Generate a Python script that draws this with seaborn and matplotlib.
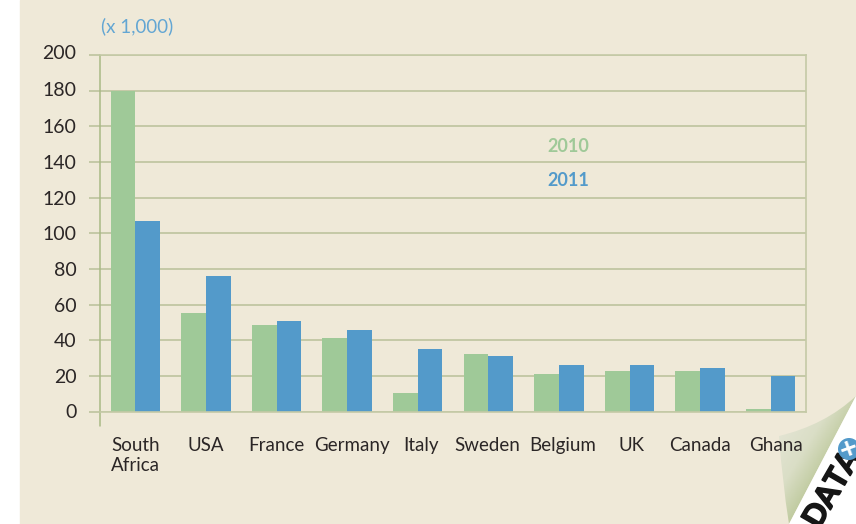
from matplotlib import pyplot as plt
from matplotlib.patches import Circle, PathPatch, Polygon, Rectangle
from matplotlib.path import Path
from matplotlib.transforms import ScaledTranslation
import matplotlib.patheffects as pe
import numpy as np
import pandas as pd
import seaborn as sns

countries = ['South\nAfrica', 'USA', 'France', 'Germany', 'Italy', 'Sweden', 'Belgium', 'UK', 'Canada', 'Ghana']
values_2010 = [180, 55, 48.5, 41, 10.5, 32, 21, 23, 23, 1.5]
values_2011 = [107, 76, 51, 46, 35, 31, 26, 26, 24.5, 20]
y_ticks = [0, 20, 40, 60, 80, 100, 120, 140, 160, 180, 200]

GREEN = '#9fc998'
BLUE = '#539aca'
CREAM = '#efe9d8'
GRID = '#c4c9a6'
AXIS = '#a9b985'
TEXT = '#2b2626'

sns.set_style('white')
plt.rcParams['font.family'] = ['Lato', 'DejaVu Sans']

df = pd.DataFrame({
    'country': countries * 2,
    'year': ['2010'] * len(countries) + ['2011'] * len(countries),
    'value': values_2010 + values_2011,
})

W, H = 856, 524
fig = plt.figure(figsize=(W / 100, H / 100), dpi=100, facecolor='white')
fig.patches.append(Rectangle((20 / W, 0), 1 - 20 / W, 1, transform=fig.transFigure, color=CREAM, zorder=-10))

# page curl in the lower right corner, sits under the chart labels
over = fig.add_axes([0, 0, 1, 1], zorder=-1)
over.axis('off')
u, v = np.meshgrid(np.linspace(0, 1, 60), np.linspace(0, 1, 60))
shade = (u + v) / 2
curl_cmap = sns.blend_palette(['#e3e4d3', '#dadec6', '#bcc89a'], as_cmap=True)
img = over.imshow(shade, extent=[778, 856, 524, 396], cmap=curl_cmap, aspect='auto', vmin=0.15, vmax=0.6, zorder=1)
curl = Path([(856, 396), (825, 425), (779, 436), (779, 436), (782, 480), (789, 524), (789, 524), (856, 396)],
            [Path.MOVETO, Path.CURVE3, Path.CURVE3, Path.LINETO, Path.CURVE3, Path.CURVE3, Path.LINETO, Path.CLOSEPOLY])
curl_patch = PathPatch(curl, fc='none', ec='none', transform=over.transData)
over.add_patch(curl_patch)
img.set_clip_path(curl_patch)
white = Polygon([(856, 396), (789, 524), (856, 524)], fc='white', ec='none', zorder=2)
over.add_patch(white)
data_label = over.text(832, 489, 'DATA', rotation=60, rotation_mode='anchor', ha='center', va='center',
                       fontsize=22, fontweight='bold', color='#161616', zorder=3,
                       path_effects=[pe.withStroke(linewidth=1.2, foreground='#161616')])
data_label.set_clip_path(white)
over.add_patch(Circle((849, 449), 11, fc=BLUE, ec='none', zorder=4))
over.text(849, 449, '+', color='white', fontsize=22, fontweight='bold', rotation=20,
          ha='center', va='center', zorder=5, clip_on=True)
over.set_xlim(0, W)
over.set_ylim(H, 0)

# plot area, placed by pixels
ax = fig.add_axes([100 / W, 1 - 411.5 / H, 706 / W, 356.5 / H])
ax.patch.set_alpha(0)
sns.barplot(data=df, x='country', y='value', hue='year', palette=[GREEN, BLUE],
            width=0.7, gap=0, saturation=1, legend=False, linewidth=0, ax=ax)
ax.set_xlim(-0.5, 9.5)
ax.set_ylim(0, 200)
ax.set_yticks(y_ticks)
ax.set_xlabel('')
ax.set_ylabel('')
ax.set_axisbelow(True)
ax.yaxis.grid(True, color=GRID, lw=1.4)
ax.tick_params(axis='y', left=True, length=8, width=1.4, color=GRID, labelsize=14, labelcolor=TEXT, pad=9)
ax.tick_params(axis='x', bottom=False, labelsize=13.5, labelcolor=TEXT, pad=15)

# the labels in the original are not quite centred under their groups (pixels)
label_nudge = [0, 0, 0, 5, 3, -1, 4, 2, 0, 5]
for label, dx in zip(ax.get_xticklabels(), label_nudge):
    label.set_linespacing(1.2)
    label.set_va('top')
    label.set_transform(label.get_transform() + ScaledTranslation(dx / 100, 0, fig.dpi_scale_trans))
ytick_labels = ax.get_yticklabels()
ytick_labels[-1].set_transform(ytick_labels[-1].get_transform() + ScaledTranslation(0, 3 / 100, fig.dpi_scale_trans))
ytick_labels[-2].set_transform(ytick_labels[-2].get_transform() + ScaledTranslation(0, 2 / 100, fig.dpi_scale_trans))

ax.spines['left'].set_visible(False)
for name in ['right', 'top', 'bottom']:
    ax.spines[name].set_color(GRID)
    ax.spines[name].set_linewidth(1.2)
ax.plot([0, 0], [-0.04, 1], transform=ax.transAxes, color=AXIS, lw=1.1, clip_on=False)

fig.text(101 / W, 1 - 26 / H, '(x 1,000)', color='#63a6d3', fontsize=13.5, va='center')
fig.text(547 / W, 1 - 146 / H, '2010', color=GREEN, fontsize=13, fontweight='bold', va='center')
fig.text(547 / W, 1 - 181 / H, '2011', color=BLUE, fontsize=13, fontweight='bold', va='center')

fig.savefig('out.png', dpi=100)
